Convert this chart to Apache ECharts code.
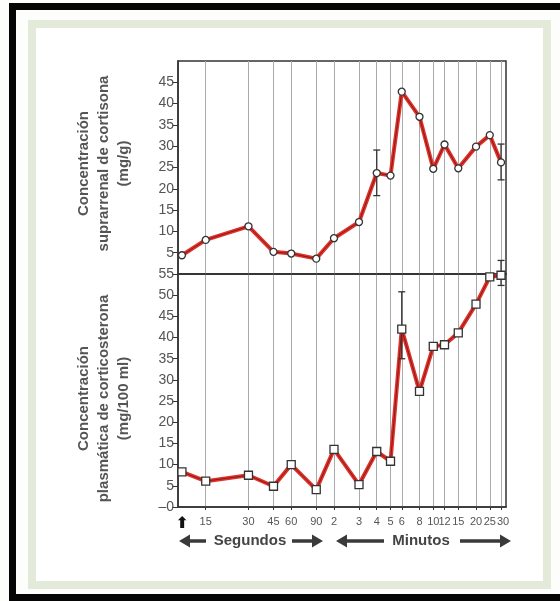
<!DOCTYPE html>
<html>
<head>
<meta charset="utf-8">
<script src="https://cdn.jsdelivr.net/npm/echarts@6/dist/echarts.min.js"></script>
<style>
  html, body { margin: 0; padding: 0; background: #fff; }
  #chart { width: 560px; height: 601px; }
</style>
</head>
<body>
<div id="chart"></div>
<script>
// time of each sample, in seconds (first one is time 0, drawn just right of the axis)
const seconds = [10.2, 15, 30, 45, 60, 90, 120, 180, 240, 300, 360, 480, 600, 720, 900, 1200, 1500, 1800];
const tickLabels = ['⬆', '15', '30', '45', '60', '90', '2', '3', '4', '5', '6', '8', '10', '12', '15', '20', '25', '30'];

// adrenal cortisone (mg/g)
const cortisona = [4.4, 8.0, 11.2, 5.2, 4.8, 3.6, 8.4, 12.2, 23.7, 23.1, 42.8, 36.9, 24.7, 30.4, 24.8, 29.9, 32.6, 26.2];
const cortisonaErr = [[240, 18.4, 29.1], [1800, 22.1, 30.5]];

// plasma corticosterone (mg/100 ml)
const corticosterona = [8.3, 6.1, 7.5, 4.9, 10.0, 4.1, 13.6, 5.3, 13.1, 10.8, 42.0, 27.3, 37.9, 38.3, 41.1, 47.9, 54.3, 54.7];
const corticosteronaErr = [[360, 35.0, 50.8], [1800, 52.3, 58.2]];

const topTicks = [5, 10, 15, 20, 25, 30, 35, 40, 45];
const bottomTicks = [0, 5, 10, 15, 20, 25, 30, 35, 40, 45, 50, 55];

const chart = echarts.init(document.getElementById('chart'));

const RED = '#e0312a';
const CORE = '#7a1a14';
const INK = '#333';
const GRIDLINE = '#ababab';
const FONT = '"Liberation Sans", Arial, sans-serif';

function pairs(ys) {
  return seconds.map((t, i) => [t, ys[i]]);
}

function labelFor(v) {
  let best = 0;
  seconds.forEach((t, i) => {
    if (Math.abs(t - v) < Math.abs(seconds[best] - v)) best = i;
  });
  return best === 0 ? '{arrow|' + tickLabels[0] + '}' : tickLabels[best];
}

function errorBars(gridIdx, data) {
  return {
    type: 'custom',
    xAxisIndex: gridIdx,
    yAxisIndex: gridIdx,
    clip: false,
    z: 4,
    data: data,
    renderItem: function (params, api) {
      const lo = api.coord([api.value(0), api.value(1)]);
      const hi = api.coord([api.value(0), api.value(2)]);
      const w = 3.5;
      const style = { stroke: INK, lineWidth: 1.3 };
      return {
        type: 'group',
        children: [
          { type: 'line', shape: { x1: lo[0], y1: lo[1], x2: hi[0], y2: hi[1] }, style: style },
          { type: 'line', shape: { x1: lo[0] - w, y1: lo[1], x2: lo[0] + w, y2: lo[1] }, style: style },
          { type: 'line', shape: { x1: hi[0] - w, y1: hi[1], x2: hi[0] + w, y2: hi[1] }, style: style }
        ]
      };
    }
  };
}

function arrow(x0, x1, y, dir) {
  const head = 11, half = 6.5, th = 3.4;
  let pts;
  if (dir < 0) {
    pts = [[x0, y], [x0 + head, y - half], [x0 + head, y - th / 2], [x1, y - th / 2],
           [x1, y + th / 2], [x0 + head, y + th / 2], [x0 + head, y + half]];
  } else {
    pts = [[x1, y], [x1 - head, y - half], [x1 - head, y - th / 2], [x0, y - th / 2],
           [x0, y + th / 2], [x1 - head, y + th / 2], [x1 - head, y + half]];
  }
  return { type: 'polygon', shape: { points: pts }, style: { fill: '#3a3a3a' }, z: 10 };
}

const xCommon = {
  type: 'log',
  min: 9.57,
  max: 1951,
  position: 'bottom',
  axisLine: { lineStyle: { color: INK, width: 1.5 } },
  splitLine: { show: true, lineStyle: { color: GRIDLINE, width: 1 } }
};

const xLabelStyle = {
  formatter: labelFor,
  margin: 9,
  color: '#555',
  fontSize: 11,
  fontFamily: FONT,
  rich: {
    arrow: { fontSize: 16, fontWeight: 'bold', color: '#111', fontFamily: '"DejaVu Sans", sans-serif' }
  }
};

const lastT = seconds[seconds.length - 1];

const option = {
  backgroundColor: '#fff',
  animation: false,
  graphic: [
    { type: 'rect', shape: { x: 0, y: 0, width: 560, height: 601 }, style: { fill: '#fdfdfb' }, z: -10 },
    { type: 'rect', shape: { x: 32, y: 24, width: 515, height: 561 },
      style: { fill: '#ffffff', stroke: '#e3eada', lineWidth: 8 }, z: -9 },
    { type: 'rect', shape: { x: 9, y: 3, width: 7, height: 598 }, style: { fill: '#050505' }, z: -8 },
    { type: 'rect', shape: { x: 9, y: 3, width: 551, height: 7 }, style: { fill: '#050505' }, z: -8 },
    { type: 'rect', shape: { x: 9, y: 594, width: 551, height: 7 }, style: { fill: '#050505' }, z: -8 },
    arrow(179, 206, 541, -1),
    { type: 'text', x: 250, y: 541, z: 10,
      style: { text: 'Segundos', fill: '#444', font: 'bold 15px ' + FONT, align: 'center', verticalAlign: 'middle' } },
    arrow(292, 323, 541, 1),
    arrow(336, 384, 541, -1),
    { type: 'text', x: 421, y: 541, z: 10,
      style: { text: 'Minutos', fill: '#444', font: 'bold 15px ' + FONT, align: 'center', verticalAlign: 'middle' } },
    arrow(460, 511, 541, 1)
  ],
  grid: [
    { left: 178, top: 61, width: 328, height: 213, show: true, borderColor: INK, borderWidth: 1.5 },
    { left: 178, top: 274, width: 328, height: 233, show: true, borderColor: INK, borderWidth: 1.5 }
  ],
  xAxis: [
    Object.assign({}, xCommon, {
      gridIndex: 0,
      axisTick: { show: false, customValues: seconds.slice(1) },
      axisLabel: { show: false }
    }),
    Object.assign({}, xCommon, {
      gridIndex: 1,
      axisTick: { show: true, length: 3, lineStyle: { color: INK }, customValues: seconds.slice(1) },
      axisLabel: Object.assign({ customValues: seconds.slice(0, -1) }, xLabelStyle)
    }),
    // the last label sits too close to "25" for the overlap check, so it gets its own axis
    Object.assign({}, xCommon, {
      gridIndex: 1,
      offset: 0,
      axisLine: { show: false },
      splitLine: { show: false },
      axisTick: { show: false },
      axisLabel: Object.assign({ customValues: [lastT] }, xLabelStyle, { padding: [0, 0, 0, 4] })
    })
  ],
  yAxis: [
    {
      type: 'value', gridIndex: 0, min: 0, max: 50,
      name: 'Concentración\nsuprarrenal de cortisona\n(mg/g)',
      nameLocation: 'middle', nameRotate: 90, nameGap: 44,
      nameTextStyle: { fontFamily: FONT, fontSize: 15, fontWeight: 'bold', color: '#555', lineHeight: 20, padding: [0, 0, 0, 8] },
      axisLine: { show: true, lineStyle: { color: INK, width: 1.5 } },
      axisTick: { show: true, length: 6, lineStyle: { color: INK }, customValues: topTicks },
      axisLabel: { customValues: topTicks, margin: 4, color: '#555', fontSize: 14, fontFamily: FONT },
      splitLine: { show: false }
    },
    {
      type: 'value', gridIndex: 1, min: 0, max: 55,
      name: 'Concentración\nplasmática de corticosterona\n(mg/100 ml)',
      nameLocation: 'middle', nameRotate: 90, nameGap: 44,
      nameTextStyle: { fontFamily: FONT, fontSize: 15, fontWeight: 'bold', color: '#555', lineHeight: 20, padding: [0, 16, 0, 0] },
      axisLine: { show: true, lineStyle: { color: INK, width: 1.5 } },
      axisTick: { show: true, length: 6, lineStyle: { color: INK }, customValues: bottomTicks },
      axisLabel: {
        customValues: bottomTicks, margin: 4, color: '#555', fontSize: 14, fontFamily: FONT,
        formatter: v => (v === 0 ? '–0' : String(v))
      },
      splitLine: { show: false }
    }
  ],
  series: [
    {
      type: 'line', xAxisIndex: 0, yAxisIndex: 0, data: pairs(cortisona),
      showSymbol: false, symbol: 'none', z: 2,
      lineStyle: { color: RED, width: 4 }
    },
    {
      type: 'line', xAxisIndex: 0, yAxisIndex: 0, data: pairs(cortisona),
      symbol: 'circle', symbolSize: 7, z: 5,
      lineStyle: { color: CORE, width: 0.9 },
      itemStyle: { color: '#fff', borderColor: INK, borderWidth: 1.3 }
    },
    errorBars(0, cortisonaErr),
    {
      type: 'line', xAxisIndex: 1, yAxisIndex: 1, data: pairs(corticosterona),
      showSymbol: false, symbol: 'none', z: 2,
      lineStyle: { color: RED, width: 4 }
    },
    {
      type: 'line', xAxisIndex: 1, yAxisIndex: 1, data: pairs(corticosterona),
      symbol: 'rect', symbolSize: 8, z: 5,
      lineStyle: { color: CORE, width: 0.9 },
      itemStyle: { color: '#fff', borderColor: INK, borderWidth: 1.3 }
    },
    errorBars(1, corticosteronaErr)
  ]
};

chart.setOption(option);
</script>
</body>
</html>
